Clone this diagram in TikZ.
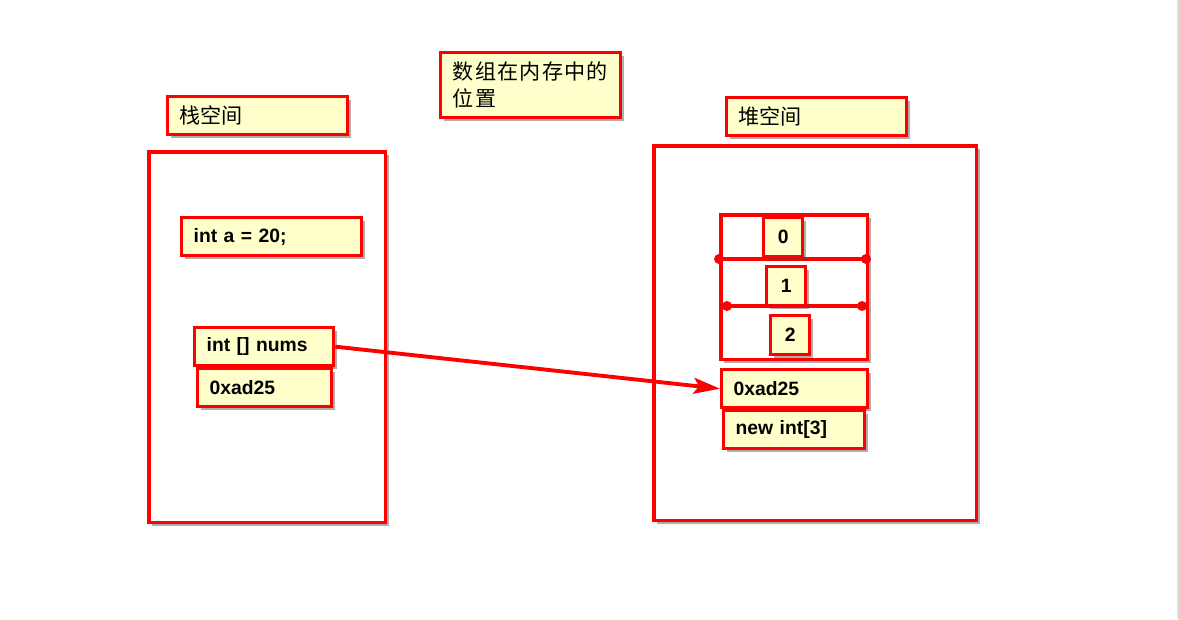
\documentclass[tikz,border=0pt]{standalone}
\usepackage{fontspec}
\setmainfont{Liberation Sans}
\newfontfamily\cjk{Noto Sans CJK SC}
\newfontfamily\cjkwide[LetterSpace=6]{Noto Sans CJK SC}
\usetikzlibrary{arrows.meta,shadows}
\definecolor{memo}{HTML}{FFFFCC}
\begin{document}
\begin{tikzpicture}[x = 0.02cm, y = -0.02cm,
  shade/.style = {drop shadow = {shadow xshift = 1.8pt, shadow yshift = -1.8pt, fill = black!70, opacity = 0.45}},
  box/.style = {draw = red, line width = 1.9pt, fill = memo, shade, anchor = north west, inner xsep = 0.24cm, inner ysep = 0pt, align = left, minimum height = 0.76cm, font = \bfseries\fontsize{11}{13}\selectfont},
  cnbox/.style = {box, font = \cjk\fontsize{12}{15.3}\selectfont},
  numbox/.style = {box, align = center, inner xsep = 0pt, minimum width = 0.78cm, minimum height = 0.78cm},
  region/.style = {draw = red, line width = 2pt, fill = white, shade, anchor = north west},
  rowline/.style = {draw = red, line width = 2.2pt}]
\useasboundingbox (0,0) rectangle (1179,619);
\draw[black!12, line width = 1pt] (1178,0) -- (1178,619);
\node[cnbox, text width = 3.12cm, minimum height = 1.3cm, font = \cjkwide\fontsize{12}{15.3}\selectfont] (title) at (439,51) {数组在内存中的\\位置};
\node[cnbox, text width = 3.12cm] (stacklabel) at (166,95) {栈空间};
\node[region, minimum width = 4.74cm, minimum height = 7.42cm] (stack) at (147,150) {};
\node[box, text width = 3.12cm] (vara) at (180,216) {int a = 20;};
\node[box, text width = 2.30cm] (nums) at (193,326) {int [] nums};
\node[box, text width = 2.20cm] (addrL) at (196,367) {0xad25};
\node[cnbox, text width = 3.12cm] (heaplabel) at (725,96) {堆空间};
\node[region, minimum width = 6.46cm, minimum height = 7.5cm] (heap) at (652,144) {};
\node[region, minimum width = 2.94cm, minimum height = 2.9cm] (arr) at (719,213) {};
\coordinate (r1l) at (719,259);
\coordinate (r1r) at (866,259);
\coordinate (r2l) at (727,306);
\coordinate (r2r) at (862,306);
\foreach \a/\b in {r1l/r1r, r2l/r2r} {
  \draw[rowline] (\a) -- (\b);
  \fill[red] (\a) circle (0.1cm) (\b) circle (0.1cm);
}
\node[numbox] (n0) at (762,216) {0};
\node[numbox] (n1) at (765,265) {1};
\node[numbox] (n2) at (769,314) {2};
\node[box, text width = 2.44cm] (addrR) at (720,368) {0xad25};
\node[box, text width = 2.34cm] (newarr) at (722,409) {new int[3]};
\draw[rowline, -{Stealth[length = 15pt, width = 9pt, inset = 3pt]}] (nums.east) -- (addrR.west);
\end{tikzpicture}
\end{document}
